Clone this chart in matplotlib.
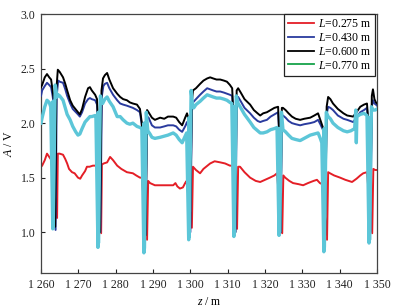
import matplotlib
matplotlib.use("Agg")
import matplotlib.pyplot as plt
from matplotlib.lines import Line2D

plt.rcParams['font.family'] = ['Liberation Serif', 'DejaVu Serif']
plt.rcParams['mathtext.fontset'] = 'custom'
plt.rcParams['mathtext.it'] = 'Liberation Serif:italic'
plt.rcParams['mathtext.rm'] = 'Liberation Serif'

# ---- data ----
z_red = [1260.0, 1260.3, 1261.0, 1261.6, 1262.0, 1262.4, 1262.8, 1264.3, 1264.5, 1265.0, 1265.9,
         1266.5, 1267.0, 1267.5, 1268.3, 1269.0, 1269.9, 1270.5, 1271.0, 1271.8, 1272.3, 1273.0,
         1273.9, 1274.5, 1274.9, 1276.1, 1276.3, 1276.8, 1277.7, 1278.5, 1279.3, 1280.4, 1281.5,
         1283.0, 1284.6, 1285.5, 1286.5, 1287.0, 1288.4, 1288.7, 1289.2, 1290.5, 1291.9, 1293.5,
         1295.4, 1296.0, 1296.5, 1297.2, 1298.0, 1298.6, 1299.0, 1300.4, 1300.7, 1301.5, 1302.6,
         1303.5, 1305.3, 1306.5, 1308.0, 1309.3, 1310.6, 1311.3, 1312.5, 1312.8, 1313.3, 1314.5,
         1316.0, 1317.5, 1318.7, 1320.0, 1321.3, 1322.5, 1323.2, 1324.6, 1324.9, 1325.4, 1326.5,
         1327.5, 1329.0, 1330.2, 1331.5, 1333.0, 1333.9, 1334.7, 1335.3, 1336.6, 1336.9, 1337.4,
         1338.5, 1340.1, 1341.5, 1343.3, 1344.5, 1345.5, 1346.3, 1347.3, 1348.7, 1349.0, 1349.5,
         1350.0]
a_red = [1.60, 1.61, 1.66, 1.72, 1.70, 1.68, 1.66, 1.13, 1.72, 1.72, 1.71,
         1.67, 1.63, 1.58, 1.55, 1.54, 1.50, 1.49, 1.52, 1.56, 1.60, 1.60,
         1.61, 1.61, 1.60, 0.99, 1.62, 1.63, 1.64, 1.69, 1.66, 1.61, 1.58,
         1.55, 1.54, 1.52, 1.50, 1.50, 0.93, 1.47, 1.45, 1.43, 1.43, 1.43,
         1.43, 1.45, 1.42, 1.40, 1.41, 1.45, 1.47, 1.04, 1.60, 1.57, 1.54,
         1.58, 1.63, 1.65, 1.64, 1.63, 1.61, 1.61, 1.03, 1.60, 1.60, 1.55,
         1.50, 1.47, 1.46, 1.48, 1.50, 1.52, 1.54, 0.99, 1.52, 1.50, 1.47,
         1.45, 1.44, 1.43, 1.45, 1.47, 1.48, 1.45, 1.44, 0.93, 1.55, 1.54,
         1.52, 1.50, 1.48, 1.46, 1.49, 1.52, 1.54, 1.55, 0.99, 1.58, 1.57,
         1.57]

z_blue = [1260.0, 1260.3, 1261.0, 1261.6, 1262.2, 1262.7, 1263.1, 1263.5, 1263.9, 1264.2, 1264.6,
          1265.0, 1265.9, 1266.5, 1267.0, 1267.8, 1268.5, 1269.9, 1270.4, 1271.0, 1271.8, 1272.6,
          1273.1, 1273.6, 1274.5, 1275.0, 1275.4, 1275.9, 1276.3, 1276.7, 1277.1, 1277.7, 1278.3,
          1279.3, 1280.4, 1281.2, 1282.0, 1283.0, 1283.8, 1284.6, 1285.7, 1286.5, 1287.0, 1288.0,
          1288.4, 1288.8, 1289.7, 1290.5, 1291.9, 1293.0, 1294.0, 1295.4, 1296.2, 1297.0, 1297.8,
          1298.6, 1299.1, 1299.4, 1300.0, 1300.4, 1300.7, 1301.5, 1302.6, 1303.5, 1304.5, 1305.3,
          1306.1, 1307.0, 1308.0, 1309.0, 1309.8, 1310.6, 1311.2, 1311.6, 1312.1, 1312.4, 1312.8,
          1313.5, 1314.5, 1316.0, 1317.0, 1318.0, 1318.7, 1319.5, 1320.5, 1321.5, 1322.5, 1323.5,
          1323.8, 1324.2, 1324.5, 1324.8, 1325.5, 1326.3, 1327.2, 1328.2, 1329.4, 1330.5, 1332.1,
          1333.2, 1334.2, 1334.8, 1335.5, 1336.0, 1336.5, 1336.9, 1337.5, 1338.2, 1339.5, 1341.0,
          1342.0, 1343.6, 1344.5, 1345.5, 1346.5, 1347.3, 1347.7, 1348.2, 1348.6, 1348.9, 1349.3,
          1349.7, 1350.0]
a_blue = [2.25, 2.30, 2.34, 2.37, 2.35, 2.33, 2.25, 2.15, 1.02, 2.25, 2.39,
          2.38, 2.37, 2.31, 2.25, 2.18, 2.13, 2.08, 2.06, 2.10, 2.18, 2.22,
          2.23, 2.22, 2.21, 2.17, 1.90, 1.00, 2.25, 2.34, 2.36, 2.37, 2.32,
          2.26, 2.21, 2.18, 2.17, 2.16, 2.15, 2.14, 2.12, 2.10, 1.98, 0.98,
          2.06, 2.05, 1.98, 1.96, 1.96, 1.97, 1.98, 1.98, 1.97, 1.94, 1.92,
          1.97, 2.01, 1.97, 1.00, 2.10, 2.19, 2.22, 2.26, 2.29, 2.32, 2.31,
          2.30, 2.29, 2.29, 2.28, 2.27, 2.26, 2.25, 2.00, 1.00, 2.22, 2.24,
          2.20, 2.14, 2.09, 2.05, 2.02, 2.01, 2.02, 2.03, 2.06, 2.08, 2.10,
          1.90, 1.00, 2.07, 2.07, 2.05, 2.02, 2.00, 1.99, 1.98, 1.99, 2.00,
          2.01, 2.03, 1.99, 1.94, 1.00, 2.08, 2.15, 2.14, 2.12, 2.07, 2.04,
          2.03, 2.01, 2.05, 2.10, 2.12, 2.14, 1.95, 1.00, 2.15, 2.21, 2.18,
          2.17, 2.16]

z_black = [1260.0, 1260.3, 1261.0, 1261.6, 1262.2, 1262.7, 1263.1, 1263.5, 1263.8, 1264.1, 1264.5,
           1265.0, 1265.9, 1266.5, 1267.0, 1267.8, 1268.5, 1269.9, 1270.4, 1271.0, 1271.8, 1272.6,
           1273.1, 1273.6, 1274.5, 1275.0, 1275.4, 1275.8, 1276.2, 1276.6, 1277.1, 1277.7, 1278.3,
           1279.3, 1280.4, 1281.2, 1282.0, 1283.0, 1283.8, 1284.6, 1285.7, 1286.5, 1287.0, 1288.0,
           1288.4, 1288.8, 1289.7, 1290.5, 1291.9, 1293.0, 1294.0, 1295.4, 1296.2, 1297.0, 1297.8,
           1298.6, 1299.1, 1299.4, 1299.9, 1300.4, 1300.7, 1301.5, 1302.6, 1303.5, 1304.5, 1305.3,
           1306.1, 1307.0, 1308.0, 1309.0, 1309.8, 1310.6, 1311.2, 1311.6, 1312.0, 1312.4, 1312.8,
           1313.5, 1314.5, 1316.0, 1317.0, 1318.0, 1318.7, 1319.5, 1320.5, 1321.5, 1322.5, 1323.5,
           1323.8, 1324.1, 1324.5, 1324.8, 1325.5, 1326.3, 1327.2, 1328.2, 1329.4, 1330.5, 1332.1,
           1333.2, 1334.2, 1334.8, 1335.5, 1336.1, 1336.5, 1336.9, 1337.5, 1338.2, 1339.5, 1341.0,
           1342.0, 1343.6, 1344.5, 1345.5, 1346.5, 1347.3, 1347.7, 1348.1, 1348.6, 1348.9, 1349.3,
           1349.7, 1350.0]
a_black = [2.33, 2.35, 2.42, 2.45, 2.42, 2.40, 2.30, 2.20, 1.05, 2.30, 2.49,
           2.47, 2.42, 2.36, 2.30, 2.21, 2.16, 2.10, 2.08, 2.13, 2.24, 2.32,
           2.33, 2.30, 2.26, 2.22, 1.90, 1.00, 2.30, 2.41, 2.44, 2.46, 2.40,
           2.32, 2.27, 2.24, 2.22, 2.21, 2.19, 2.18, 2.17, 2.13, 2.00, 0.97,
           2.12, 2.10, 2.05, 2.03, 2.05, 2.04, 2.06, 2.06, 2.05, 2.01, 1.98,
           2.05, 2.09, 2.05, 1.00, 2.20, 2.30, 2.32, 2.36, 2.39, 2.41, 2.42,
           2.41, 2.40, 2.40, 2.39, 2.38, 2.35, 2.32, 2.00, 1.00, 2.30, 2.32,
           2.28, 2.22, 2.17, 2.12, 2.09, 2.07, 2.09, 2.10, 2.12, 2.14, 2.15,
           1.90, 1.00, 2.14, 2.14, 2.12, 2.09, 2.06, 2.04, 2.03, 2.04, 2.05,
           2.07, 2.09, 2.03, 1.96, 0.97, 2.15, 2.24, 2.22, 2.18, 2.13, 2.09,
           2.07, 2.06, 2.10, 2.15, 2.17, 2.18, 2.00, 1.00, 2.25, 2.31, 2.22,
           2.19, 2.18]

z_cyan = [1260.0, 1260.3, 1261.0, 1261.6, 1262.2, 1262.6,
          1263.15, 1263.22, 1263.29, 1263.8, 1264.3, 1264.6, 1265.0,
          1265.9, 1266.5, 1267.0, 1267.8, 1268.5, 1269.3, 1269.9, 1270.4, 1271.0, 1271.8, 1272.6,
          1273.1, 1273.6, 1274.5, 1274.7,
          1275.25, 1275.32, 1275.39, 1275.9, 1276.5, 1277.1, 1277.7, 1278.3, 1279.3,
          1280.4, 1281.2, 1282.0, 1283.0, 1283.8, 1284.6, 1285.7, 1286.5, 1287.0,
          1287.55, 1287.62, 1287.69, 1288.2,
          1288.6, 1289.2, 1289.7, 1290.5, 1291.9, 1293.0, 1294.0, 1295.4, 1296.2, 1297.0, 1297.8,
          1298.6, 1299.0,
          1299.55, 1299.62, 1299.69, 1300.2, 1300.6, 1300.9, 1301.5, 1302.6, 1303.5, 1304.5, 1305.3,
          1306.1, 1307.0, 1308.0, 1309.0, 1309.8, 1310.6, 1311.1,
          1311.65, 1311.72, 1311.79, 1312.3, 1312.8, 1313.5,
          1314.5, 1316.0, 1317.0, 1318.0, 1318.7, 1319.5, 1320.5, 1321.5, 1322.5, 1323.2,
          1323.75, 1323.82, 1323.89, 1324.4, 1324.8, 1325.5, 1326.3, 1327.2, 1328.2, 1329.4, 1330.5,
          1332.1, 1333.2, 1334.2, 1334.8, 1335.2,
          1335.75, 1335.82, 1335.89, 1336.4, 1336.9, 1337.5, 1338.2, 1339.5, 1341.0, 1342.0, 1343.0,
          1344.0, 1344.3, 1344.45, 1344.6, 1345.5, 1346.5, 1347.3,
          1347.85, 1347.92, 1347.99, 1348.5, 1348.9, 1349.5, 1350.0]
a_cyan = [2.00, 2.05, 2.15, 2.21, 2.19, 2.15,
          1.03, 2.20, 1.06, 2.35, 2.24, 2.26, 2.25,
          2.21, 2.14, 2.08, 2.03, 1.97, 1.92, 1.89, 1.90, 1.95, 2.01, 2.04,
          2.06, 2.06, 2.07, 2.05,
          0.86, 2.10, 0.90, 2.25, 2.18, 2.22, 2.24, 2.20, 2.15,
          2.06, 2.06, 2.03, 2.00, 1.99, 2.00, 1.97, 1.96, 1.95,
          0.81, 2.00, 0.85, 2.10,
          1.93, 1.90, 1.87, 1.86, 1.87, 1.88, 1.89, 1.91, 1.89, 1.85, 1.82,
          1.88, 1.91,
          0.93, 2.05, 0.96, 2.30, 2.16, 2.14, 2.17, 2.20, 2.23, 2.26, 2.25,
          2.24, 2.23, 2.23, 2.22, 2.21, 2.19, 2.18,
          0.96, 2.15, 0.99, 2.25, 2.18, 2.14,
          2.08, 2.01, 1.96, 1.93, 1.91, 1.91, 1.92, 1.94, 1.95, 1.96,
          0.97, 1.95, 1.00, 2.10, 1.94, 1.92, 1.89, 1.86, 1.85, 1.84, 1.86,
          1.89, 1.90, 1.91, 1.86, 1.82,
          0.82, 1.95, 0.86, 2.10, 2.06, 2.04, 2.00, 1.96, 1.93, 1.92, 1.93,
          1.95, 2.12, 1.82, 2.06, 2.08, 2.09, 2.07,
          0.90, 2.05, 0.93, 2.15, 2.12, 2.12, 2.13]

labels = ['$L$=0.275 m', '$L$=0.430 m', '$L$=0.600 m', '$L$=0.770 m']
line_colors = ['#e41e26', '#2a3b9e', '#000000', '#5cc6d8']
legend_colors = ['#e41e26', '#2a3b9e', '#000000', '#16a34a']
xticks = [1260, 1270, 1280, 1290, 1300, 1310, 1320, 1330, 1340, 1350]
xtick_labels = ['1 260', '1 270', '1 280', '1 290', '1 300', '1 310', '1 320', '1 330', '1 340', '1 350']
yticks = [1.0, 1.5, 2.0, 2.5, 3.0]

fig = plt.figure(figsize=(3.99, 3.07), dpi=100)
ax = fig.add_axes([0.1028, 0.1107, 0.8422, 0.8433])

series = [(z_red, a_red), (z_blue, a_blue), (z_black, a_black), (z_cyan, a_cyan)]
widths = [1.4, 1.4, 1.4, 2.4]
for i, (zz, aa) in enumerate(series):
    ax.plot(zz, aa, color=line_colors[i], lw=widths[i], zorder=2 + i,
            solid_joinstyle='round')

ax.set_xlim(1260, 1350)
ax.set_ylim(0.625, 3.0)
ax.set_xticks(xticks)
ax.set_xticklabels(xtick_labels)
ax.set_yticks(yticks)
ax.set_yticklabels([f'{v:.1f}' for v in yticks])
ax.tick_params(direction='in', length=3, width=0.8, labelsize=8.5, colors='#222222',
               top=False, right=False, pad=4)
for s in ax.spines.values():
    s.set_color('#444444')
    s.set_linewidth(0.9)

ax.set_xlabel('$z$ / m', fontsize=8.5, labelpad=4)
ax.set_ylabel('$A$ / V', fontsize=8.5, labelpad=4)

handles = [Line2D([], [], color=c, lw=1.3) for c in legend_colors]
leg = ax.legend(handles, labels, loc='upper right', fontsize=8.5, frameon=True,
                fancybox=False, edgecolor='#222222', framealpha=1,
                borderaxespad=0.0, borderpad=0.35, labelspacing=0.15,
                handlelength=2.2, handletextpad=0.3, bbox_to_anchor=(0.995, 1.0))
leg.get_frame().set_linewidth(0.9)

fig.savefig('out.png', dpi=100)
